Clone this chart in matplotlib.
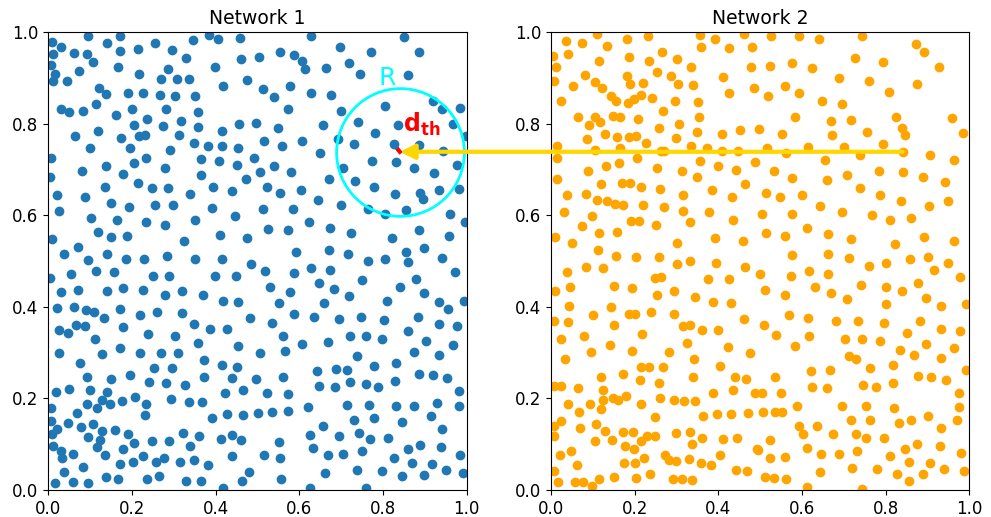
import matplotlib
matplotlib.use('Agg')
import matplotlib.pyplot as plt
from matplotlib.patches import ConnectionPatch
import numpy as np

# node positions (x, y)
net1 = np.array([
    (0.008, 0.978), (0.094, 0.992), (0.172, 0.992), (0.141, 0.977), (0.030, 0.967), (0.012, 0.953),
    (0.061, 0.955), (0.092, 0.953), (0.107, 0.935), (0.171, 0.960), (0.214, 0.963), (0.256, 0.977),
    (0.296, 0.962), (0.345, 0.983), (0.385, 0.995), (0.406, 0.986), (0.458, 0.987), (0.461, 0.942),
    (0.007, 0.929), (0.017, 0.910), (0.074, 0.915), (0.012, 0.894), (0.044, 0.894), (0.167, 0.924),
    (0.217, 0.910), (0.286, 0.919), (0.330, 0.943), (0.398, 0.924), (0.269, 0.897), (0.308, 0.897),
    (0.337, 0.897), (0.418, 0.882), (0.476, 0.895), (0.122, 0.878), (0.137, 0.866), (0.191, 0.867),
    (0.226, 0.867), (0.266, 0.863), (0.304, 0.861), (0.350, 0.860), (0.114, 0.843), (0.030, 0.833),
    (0.049, 0.825), (0.082, 0.827), (0.163, 0.820), (0.200, 0.833), (0.281, 0.833), (0.357, 0.826),
    (0.205, 0.797), (0.236, 0.811), (0.274, 0.796), (0.316, 0.807), (0.358, 0.794), (0.455, 0.800),
    (0.063, 0.774), (0.120, 0.784), (0.174, 0.770), (0.217, 0.773), (0.230, 0.776), (0.313, 0.775),
    (0.414, 0.785), (0.100, 0.747), (0.195, 0.748), (0.291, 0.743), (0.349, 0.758), (0.381, 0.752),
    (0.416, 0.752), (0.453, 0.747), (0.007, 0.725), (0.081, 0.697), (0.137, 0.708), (0.205, 0.715),
    (0.234, 0.725), (0.279, 0.704), (0.366, 0.724), (0.408, 0.719), (0.451, 0.710), (0.492, 0.726),
    (0.005, 0.683), (0.178, 0.690), (0.364, 0.689), (0.472, 0.679),
    (0.136, 0.663), (0.214, 0.670), (0.247, 0.659), (0.287, 0.659), (0.393, 0.663), (0.439, 0.654),
    (0.020, 0.645), (0.088, 0.641), (0.149, 0.628), (0.193, 0.618), (0.254, 0.622), (0.299, 0.622),
    (0.338, 0.647), (0.392, 0.617), (0.446, 0.599), (0.026, 0.610), (0.103, 0.594), (0.165, 0.589),
    (0.234, 0.586), (0.278, 0.578), (0.351, 0.591), (0.010, 0.549), (0.118, 0.564), (0.150, 0.553),
    (0.189, 0.556), (0.324, 0.544), (0.410, 0.558), (0.474, 0.550), (0.071, 0.530), (0.038, 0.515),
    (0.141, 0.516), (0.096, 0.503), (0.186, 0.505), (0.229, 0.505), (0.284, 0.511), (0.351, 0.504),
    (0.414, 0.504), (0.485, 0.494), (0.005, 0.463), (0.054, 0.471), (0.113, 0.478), (0.156, 0.476),
    (0.251, 0.468), (0.288, 0.468), (0.399, 0.467), (0.449, 0.467), (0.030, 0.432), (0.071, 0.438),
    (0.141, 0.434), (0.179, 0.441), (0.226, 0.437), (0.279, 0.425), (0.319, 0.435), (0.370, 0.425),
    (0.417, 0.414), (0.454, 0.410), (0.022, 0.397), (0.061, 0.399), (0.091, 0.393), (0.110, 0.389),
    (0.132, 0.376), (0.171, 0.395), (0.220, 0.383), (0.259, 0.390), (0.319, 0.387), (0.483, 0.375),
    (0.026, 0.349), (0.047, 0.344), (0.067, 0.361), (0.088, 0.359), (0.178, 0.356), (0.238, 0.340),
    (0.304, 0.336), (0.349, 0.362), (0.387, 0.352), (0.427, 0.352),
    (0.111, 0.330), (0.358, 0.321), (0.453, 0.314), (0.026, 0.299), (0.128, 0.297), (0.171, 0.310),
    (0.219, 0.300), (0.270, 0.299), (0.311, 0.299), (0.371, 0.285), (0.414, 0.274), (0.451, 0.268),
    (0.076, 0.277), (0.093, 0.248), (0.149, 0.242), (0.195, 0.251), (0.253, 0.267), (0.296, 0.266),
    (0.371, 0.248), (0.440, 0.245), (0.018, 0.215), (0.050, 0.221), (0.100, 0.219), (0.140, 0.215),
    (0.240, 0.236), (0.281, 0.233), (0.326, 0.229), (0.422, 0.211), (0.465, 0.219), (0.007, 0.179),
    (0.093, 0.187), (0.117, 0.179), (0.128, 0.197), (0.148, 0.188), (0.177, 0.195), (0.208, 0.203),
    (0.234, 0.187), (0.294, 0.199), (0.336, 0.192), (0.367, 0.192), (0.007, 0.151), (0.069, 0.169),
    (0.232, 0.163), (0.392, 0.157), (0.427, 0.166), (0.465, 0.164), (0.009, 0.122), (0.022, 0.133),
    (0.046, 0.146), (0.078, 0.137), (0.108, 0.144), (0.128, 0.128), (0.094, 0.115), (0.124, 0.110),
    (0.160, 0.132), (0.191, 0.123), (0.011, 0.097), (0.030, 0.085), (0.034, 0.069), (0.058, 0.079),
    (0.116, 0.093), (0.135, 0.077), (0.179, 0.090), (0.206, 0.103), (0.248, 0.106), (0.289, 0.107),
    (0.322, 0.124), (0.339, 0.097), (0.360, 0.119), (0.413, 0.111), (0.438, 0.120), (0.461, 0.110),
    (0.037, 0.039), (0.082, 0.050), (0.172, 0.056), (0.203, 0.061), (0.227, 0.074), (0.257, 0.062),
    (0.277, 0.071), (0.315, 0.061), (0.348, 0.066), (0.382, 0.055), (0.438, 0.074), (0.480, 0.039),
    (0.016, 0.015), (0.060, 0.017), (0.096, 0.016), (0.138, 0.028), (0.167, 0.023), (0.236, 0.024),
    (0.265, 0.031), (0.329, 0.020), (0.364, 0.019), (0.417, 0.004), (0.464, 0.020),
    (0.628, 0.993), (0.850, 0.989), (0.697, 0.967), (0.504, 0.946), (0.554, 0.956), (0.588, 0.950),
    (0.607, 0.938), (0.613, 0.920), (0.664, 0.923), (0.719, 0.932), (0.745, 0.910), (0.770, 0.956),
    (0.887, 0.956), (0.859, 0.907), (0.512, 0.877), (0.539, 0.858), (0.578, 0.883), (0.628, 0.867),
    (0.676, 0.863), (0.573, 0.832), (0.699, 0.828), (0.804, 0.838), (0.920, 0.849), (0.940, 0.832),
    (0.984, 0.835), (0.496, 0.801), (0.549, 0.792), (0.656, 0.798), (0.740, 0.803), (0.780, 0.781),
    (0.835, 0.798), (0.966, 0.799), (0.998, 0.774), (0.516, 0.763), (0.559, 0.752), (0.606, 0.763),
    (0.693, 0.766), (0.731, 0.756), (0.825, 0.756), (0.885, 0.754), (0.650, 0.736), (0.944, 0.741),
    (0.505, 0.694), (0.539, 0.709), (0.581, 0.695), (0.704, 0.704), (0.774, 0.719), (0.831, 0.717),
    (0.874, 0.703), (0.921, 0.692), (0.977, 0.711), (0.671, 0.680), (0.734, 0.675),
    (0.522, 0.661), (0.554, 0.650), (0.603, 0.655), (0.779, 0.662), (0.829, 0.646), (0.888, 0.648),
    (0.896, 0.635), (0.934, 0.656), (0.981, 0.658), (0.513, 0.613), (0.585, 0.613), (0.645, 0.633),
    (0.699, 0.622), (0.764, 0.614), (0.805, 0.604), (0.855, 0.612), (0.961, 0.604), (0.996, 0.586),
    (0.524, 0.570), (0.574, 0.568), (0.622, 0.585), (0.673, 0.572), (0.723, 0.562), (0.822, 0.551),
    (0.887, 0.567), (0.957, 0.556), (0.593, 0.520), (0.671, 0.525), (0.716, 0.516), (0.765, 0.500),
    (0.805, 0.505), (0.856, 0.519), (0.860, 0.498), (0.898, 0.528), (0.942, 0.508), (0.519, 0.478),
    (0.587, 0.475), (0.628, 0.486), (0.673, 0.481), (0.750, 0.458), (0.879, 0.462), (0.973, 0.477),
    (0.531, 0.443), (0.578, 0.432), (0.646, 0.452), (0.683, 0.439), (0.719, 0.424), (0.841, 0.444),
    (0.897, 0.431), (0.551, 0.408), (0.660, 0.408), (0.809, 0.412), (0.934, 0.411), (0.954, 0.396),
    (0.993, 0.414), (0.534, 0.364), (0.587, 0.385), (0.634, 0.379), (0.694, 0.374), (0.748, 0.379),
    (0.803, 0.371), (0.883, 0.379), (0.934, 0.363), (0.976, 0.358), (0.561, 0.336), (0.722, 0.336),
    (0.759, 0.337), (0.860, 0.348),
    (0.797, 0.330), (0.668, 0.324), (0.902, 0.326), (0.607, 0.318), (0.505, 0.299), (0.566, 0.304),
    (0.738, 0.292), (0.874, 0.302), (0.934, 0.294), (0.966, 0.317), (0.496, 0.243), (0.562, 0.248),
    (0.642, 0.261), (0.687, 0.264), (0.715, 0.262), (0.778, 0.270), (0.830, 0.278), (0.887, 0.253),
    (0.919, 0.252), (0.952, 0.245), (0.523, 0.213), (0.573, 0.210), (0.646, 0.227), (0.684, 0.226),
    (0.720, 0.237), (0.760, 0.231), (0.789, 0.226), (0.829, 0.239), (0.981, 0.216), (0.500, 0.169),
    (0.535, 0.170), (0.573, 0.172), (0.620, 0.182), (0.715, 0.185), (0.766, 0.186), (0.831, 0.183),
    (0.875, 0.184), (0.928, 0.191), (0.981, 0.184), (0.731, 0.152), (0.778, 0.157), (0.656, 0.140),
    (0.846, 0.148), (0.915, 0.162), (0.942, 0.134), (0.625, 0.121), (0.694, 0.117), (0.743, 0.124),
    (0.768, 0.112), (0.811, 0.114), (0.552, 0.105), (0.633, 0.091), (0.516, 0.077), (0.553, 0.070),
    (0.669, 0.076), (0.705, 0.078), (0.750, 0.085), (0.825, 0.071), (0.860, 0.090), (0.889, 0.098),
    (0.938, 0.095), (0.985, 0.076), (0.661, 0.037), (0.737, 0.044), (0.797, 0.042), (0.869, 0.058),
    (0.916, 0.056), (0.951, 0.044), (0.992, 0.037), (0.556, 0.025), (0.845, 0.031), (0.898, 0.032),
    (0.626, 0.005), (0.759, 0.004),
])

net2 = np.array([
    (0.110, 0.996), (0.232, 0.991), (0.357, 0.995), (0.460, 0.996), (0.037, 0.980), (0.073, 0.977),
    (0.182, 0.985), (0.135, 0.970), (0.393, 0.985), (0.358, 0.967), (0.425, 0.966), (0.480, 0.967),
    (0.005, 0.948), (0.041, 0.952), (0.114, 0.938), (0.186, 0.945), (0.233, 0.937), (0.266, 0.958),
    (0.300, 0.942), (0.335, 0.925), (0.012, 0.925), (0.478, 0.924), (0.081, 0.907), (0.006, 0.894),
    (0.106, 0.891), (0.052, 0.883), (0.123, 0.878), (0.181, 0.904), (0.188, 0.886), (0.221, 0.890),
    (0.253, 0.913), (0.287, 0.905), (0.304, 0.886), (0.339, 0.885), (0.411, 0.903), (0.484, 0.878),
    (0.023, 0.850), (0.143, 0.860), (0.155, 0.849), (0.183, 0.846), (0.198, 0.854), (0.216, 0.863),
    (0.241, 0.857), (0.296, 0.851), (0.351, 0.847), (0.425, 0.867), (0.064, 0.816), (0.104, 0.815),
    (0.092, 0.798), (0.116, 0.805), (0.147, 0.817), (0.166, 0.814), (0.208, 0.811), (0.267, 0.827),
    (0.307, 0.799), (0.354, 0.815), (0.258, 0.792), (0.348, 0.783), (0.128, 0.778), (0.086, 0.767),
    (0.158, 0.772), (0.187, 0.771), (0.202, 0.773), (0.228, 0.758), (0.298, 0.768), (0.409, 0.777),
    (0.452, 0.787), (0.014, 0.752), (0.104, 0.743), (0.164, 0.748), (0.262, 0.741), (0.270, 0.741),
    (0.335, 0.752), (0.373, 0.748), (0.409, 0.741), (0.447, 0.741), (0.014, 0.725), (0.205, 0.725),
    (0.356, 0.718), (0.088, 0.696), (0.132, 0.708), (0.163, 0.715), (0.253, 0.704), (0.312, 0.696),
    (0.400, 0.709), (0.443, 0.700), (0.487, 0.716), (0.014, 0.680), (0.349, 0.683),
    (0.525, 0.991), (0.593, 0.992), (0.640, 0.985), (0.742, 0.991), (0.871, 0.974), (0.891, 0.957),
    (0.523, 0.927), (0.576, 0.934), (0.624, 0.921), (0.726, 0.944), (0.793, 0.935), (0.926, 0.925),
    (0.519, 0.861), (0.558, 0.883), (0.592, 0.868), (0.688, 0.900), (0.761, 0.894), (0.808, 0.870),
    (0.875, 0.888), (0.647, 0.849), (0.696, 0.844), (0.583, 0.816), (0.668, 0.806), (0.717, 0.808),
    (0.824, 0.816), (0.838, 0.792), (0.847, 0.775), (0.958, 0.812), (0.984, 0.779), (0.497, 0.788),
    (0.553, 0.778), (0.672, 0.776), (0.756, 0.782), (0.517, 0.748), (0.562, 0.736), (0.614, 0.749),
    (0.700, 0.750), (0.738, 0.733), (0.794, 0.756), (0.841, 0.739), (0.906, 0.731), (0.964, 0.720),
    (0.655, 0.720), (0.532, 0.698), (0.576, 0.681), (0.660, 0.677), (0.707, 0.688), (0.783, 0.697),
    (0.842, 0.694), (0.889, 0.683), (0.941, 0.674),
    (0.120, 0.668), (0.170, 0.670), (0.189, 0.670), (0.214, 0.661), (0.261, 0.658), (0.384, 0.656),
    (0.463, 0.669), (0.038, 0.645), (0.083, 0.647), (0.111, 0.634), (0.133, 0.631), (0.154, 0.625),
    (0.173, 0.623), (0.221, 0.622), (0.271, 0.619), (0.316, 0.644), (0.433, 0.640), (0.032, 0.608),
    (0.315, 0.610), (0.378, 0.608), (0.099, 0.598), (0.191, 0.588), (0.211, 0.588), (0.073, 0.577),
    (0.250, 0.578), (0.331, 0.586), (0.434, 0.589), (0.010, 0.552), (0.115, 0.562), (0.157, 0.563),
    (0.393, 0.551), (0.050, 0.540), (0.300, 0.540), (0.458, 0.544), (0.112, 0.524), (0.155, 0.511),
    (0.202, 0.509), (0.257, 0.509), (0.331, 0.500), (0.300, 0.494), (0.394, 0.497), (0.038, 0.477),
    (0.083, 0.487), (0.125, 0.484), (0.464, 0.488), (0.248, 0.464), (0.264, 0.465), (0.374, 0.462),
    (0.426, 0.462), (0.010, 0.435), (0.045, 0.443), (0.151, 0.446), (0.194, 0.441), (0.253, 0.425),
    (0.295, 0.435), (0.343, 0.421), (0.388, 0.410), (0.429, 0.409), (0.044, 0.403), (0.143, 0.400),
    (0.100, 0.382), (0.187, 0.385), (0.201, 0.385), (0.240, 0.390), (0.295, 0.385), (0.008, 0.369),
    (0.040, 0.366), (0.150, 0.360), (0.315, 0.359), (0.333, 0.360), (0.362, 0.350), (0.400, 0.350),
    (0.460, 0.373), (0.078, 0.337), (0.218, 0.341),
    (0.514, 0.650), (0.547, 0.641), (0.600, 0.645), (0.738, 0.659), (0.787, 0.645), (0.836, 0.631),
    (0.904, 0.621), (0.948, 0.631), (0.503, 0.603), (0.577, 0.602), (0.642, 0.620), (0.696, 0.607),
    (0.766, 0.601), (0.809, 0.589), (0.860, 0.595), (0.514, 0.562), (0.559, 0.556), (0.612, 0.572),
    (0.663, 0.559), (0.718, 0.549), (0.823, 0.537), (0.892, 0.552), (0.963, 0.543), (0.577, 0.513),
    (0.661, 0.516), (0.711, 0.508), (0.759, 0.489), (0.801, 0.495), (0.858, 0.505), (0.900, 0.509),
    (0.915, 0.481), (0.948, 0.495), (0.499, 0.473), (0.573, 0.468), (0.616, 0.479), (0.661, 0.473),
    (0.978, 0.465), (0.511, 0.438), (0.559, 0.426), (0.632, 0.443), (0.668, 0.431), (0.741, 0.448),
    (0.801, 0.444), (0.839, 0.434), (0.876, 0.452), (0.707, 0.417), (0.801, 0.406), (0.896, 0.419),
    (0.931, 0.401), (0.992, 0.406), (0.569, 0.382), (0.615, 0.376), (0.681, 0.369), (0.734, 0.369),
    (0.795, 0.364), (0.881, 0.369), (0.509, 0.361), (0.538, 0.338), (0.617, 0.337), (0.850, 0.342),
    (0.933, 0.352), (0.977, 0.348),
    (0.023, 0.330), (0.141, 0.316), (0.096, 0.302), (0.193, 0.304), (0.281, 0.302), (0.325, 0.321),
    (0.423, 0.313), (0.476, 0.299), (0.033, 0.286), (0.216, 0.269), (0.233, 0.269), (0.268, 0.268),
    (0.342, 0.286), (0.405, 0.272), (0.120, 0.248), (0.171, 0.253), (0.339, 0.248), (0.440, 0.246),
    (0.465, 0.242), (0.008, 0.228), (0.025, 0.227), (0.065, 0.223), (0.125, 0.219), (0.212, 0.240),
    (0.259, 0.233), (0.435, 0.219), (0.386, 0.212), (0.487, 0.213), (0.041, 0.187), (0.094, 0.189),
    (0.120, 0.178), (0.124, 0.197), (0.147, 0.202), (0.159, 0.197), (0.179, 0.205), (0.214, 0.189),
    (0.261, 0.202), (0.293, 0.197), (0.318, 0.195), (0.345, 0.195), (0.006, 0.140), (0.025, 0.151),
    (0.067, 0.170), (0.069, 0.135), (0.107, 0.144), (0.128, 0.129), (0.249, 0.159), (0.363, 0.162),
    (0.397, 0.167), (0.430, 0.167), (0.470, 0.168), (0.007, 0.117), (0.105, 0.106), (0.145, 0.109),
    (0.171, 0.127), (0.196, 0.127), (0.177, 0.096), (0.216, 0.108), (0.230, 0.119), (0.249, 0.117),
    (0.298, 0.124), (0.331, 0.127), (0.336, 0.101), (0.362, 0.113), (0.411, 0.111), (0.445, 0.113),
    (0.493, 0.089), (0.022, 0.076), (0.048, 0.085), (0.061, 0.055), (0.174, 0.058), (0.198, 0.089),
    (0.201, 0.058), (0.223, 0.071), (0.272, 0.076), (0.281, 0.066), (0.298, 0.064), (0.330, 0.068),
    (0.359, 0.058), (0.382, 0.055), (0.405, 0.076), (0.443, 0.044), (0.468, 0.042), (0.007, 0.042),
    (0.017, 0.017), (0.058, 0.017), (0.076, 0.017), (0.098, 0.009), (0.114, 0.024), (0.151, 0.028),
    (0.203, 0.027), (0.236, 0.034), (0.291, 0.025), (0.312, 0.023), (0.336, 0.022),
    (0.703, 0.330), (0.743, 0.331), (0.785, 0.326), (0.895, 0.318), (0.963, 0.310), (0.582, 0.314),
    (0.712, 0.293), (0.728, 0.286), (0.833, 0.306), (0.867, 0.296), (0.931, 0.289), (0.535, 0.248),
    (0.622, 0.260), (0.667, 0.262), (0.763, 0.267), (0.818, 0.273), (0.878, 0.249), (0.908, 0.247),
    (0.943, 0.240), (0.992, 0.262), (0.503, 0.213), (0.550, 0.211), (0.624, 0.225), (0.660, 0.223),
    (0.745, 0.229), (0.777, 0.224), (0.818, 0.233), (0.976, 0.213), (0.507, 0.170), (0.535, 0.170),
    (0.551, 0.170), (0.588, 0.183), (0.695, 0.184), (0.752, 0.184), (0.819, 0.180), (0.975, 0.182),
    (0.593, 0.139), (0.602, 0.122), (0.635, 0.140), (0.675, 0.122), (0.716, 0.152), (0.728, 0.123),
    (0.753, 0.114), (0.763, 0.154), (0.795, 0.114), (0.831, 0.147), (0.861, 0.153), (0.900, 0.162),
    (0.933, 0.136), (0.970, 0.154), (0.523, 0.109), (0.494, 0.088), (0.523, 0.071), (0.558, 0.072),
    (0.612, 0.091), (0.646, 0.078), (0.687, 0.078), (0.732, 0.085), (0.809, 0.074), (0.845, 0.090),
    (0.875, 0.101), (0.929, 0.097), (0.979, 0.081), (0.855, 0.061), (0.905, 0.058), (0.719, 0.049),
    (0.778, 0.045), (0.940, 0.047), (0.986, 0.042), (0.512, 0.028), (0.534, 0.026), (0.561, 0.023),
    (0.642, 0.039), (0.826, 0.034), (0.888, 0.034), (0.855, 0.019), (0.612, 0.006), (0.743, 0.002),
])

centre = (0.84, 0.739)     # query position, same in both networks
nearest = (0.825, 0.756)   # closest node of network 1

fig = plt.figure(figsize=(9.91, 5.17), dpi=100)
ax1 = fig.add_axes([0.0487, 0.0522, 0.4223, 0.8853])
ax2 = fig.add_axes([0.556, 0.0522, 0.4223, 0.8853])

ax1.scatter(net1[:, 0], net1[:, 1], color='tab:blue')
ax2.scatter(net2[:, 0], net2[:, 1], color='orange')

for ax, title in [(ax1, 'Network 1'), (ax2, 'Network 2')]:
    ax.set_xlim(0, 1)
    ax.set_ylim(0, 1)
    ax.set_title(title, fontsize=13.5)
    ax.tick_params(labelsize=12)

# search radius and threshold distance
ax1.plot(*centre, 'o', ms=92, mfc='none', mec='cyan', mew=2)
ax1.plot([nearest[0], centre[0]], [nearest[1], centre[1]], color='red', lw=3, zorder=0.9)
ax1.text(0.79, 0.885, 'R', color='cyan', fontsize=18)
ax1.text(0.848, 0.783, r'$\mathbf{d_{th}}$', color='red', fontsize=17)

con = ConnectionPatch(xyA=centre, coordsA=ax2.transData, xyB=centre, coordsB=ax1.transData,
                      arrowstyle='-|>', color='gold', lw=3, mutation_scale=22)
fig.add_artist(con)

fig.savefig('out.png')
